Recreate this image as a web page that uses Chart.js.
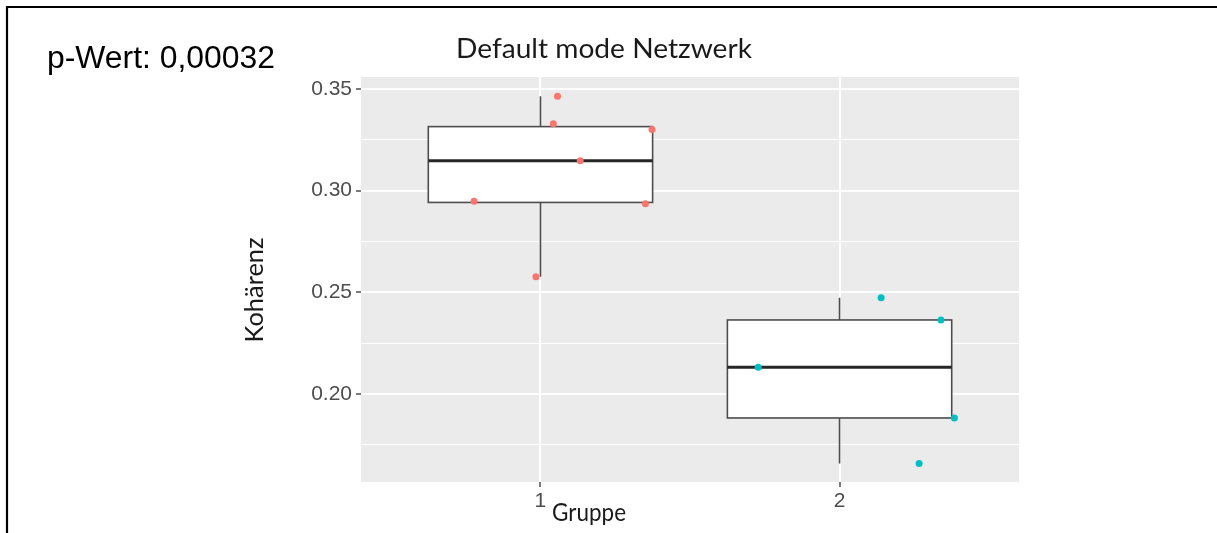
<!DOCTYPE html>
<html>
<head>
<meta charset="utf-8">
<script src="https://cdn.jsdelivr.net/npm/chart.js@4.4.0/dist/chart.umd.min.js"></script>
<style>
  html, body { margin: 0; padding: 0; background: #ffffff; }
  #wrap { position: relative; width: 1217px; height: 533px; }
  canvas { display: block; }
</style>
</head>
<body>
<div id="wrap"><canvas id="c" width="1217" height="533"></canvas></div>
<script>
// ---- Data ----
const groups = ["1", "2"];
const group1Values = [0.3464, 0.3329, 0.3301, 0.3147, 0.2948, 0.2936, 0.2577];
const group1Jitter = [0.057, 0.043, 0.373, 0.133, -0.222, 0.351, -0.015];
const group2Values = [0.2473, 0.2364, 0.2132, 0.1882, 0.1658];
const group2Jitter = [0.139, 0.339, -0.272, 0.384, 0.266];
const majorTicks = [0.20, 0.25, 0.30, 0.35];
const minorTicks = [0.175, 0.225, 0.275, 0.325];
const titleText = "Default mode Netzwerk";
const pValueText = "p-Wert: 0,00032";
const yTitle = "Kohärenz";
const xTitle = "Gruppe";

const groupValues = [group1Values, group2Values];
const groupJitter = [group1Jitter, group2Jitter];
const groupColors = ["#F8766D", "#00BFC4"];

// quantile type 7 (R default)
function quantile(arr, p) {
  const s = arr.slice().sort((a, b) => a - b);
  const h = (s.length - 1) * p;
  const lo = Math.floor(h), hi = Math.ceil(h);
  return s[lo] + (s[hi] - s[lo]) * (h - lo);
}
function boxStats(arr) {
  const q1 = quantile(arr, 0.25), med = quantile(arr, 0.5), q3 = quantile(arr, 0.75);
  const iqr = q3 - q1;
  const inside = arr.filter(v => v >= q1 - 1.5 * iqr && v <= q3 + 1.5 * iqr);
  return { q1, med, q3, lo: Math.min(...inside), hi: Math.max(...inside) };
}
const stats = groupValues.map(boxStats);
const boxHalf = 0.375;

const isMajor = v => majorTicks.some(m => Math.abs(m - v) < 1e-9);

const datasets = groupValues.map((vals, gi) => ({
  label: groups[gi],
  data: vals.map((v, i) => ({ x: gi + 1 + groupJitter[gi][i], y: v })),
  backgroundColor: groupColors[gi],
  borderColor: groupColors[gi],
  pointRadius: 3.5,
  pointBorderWidth: 0,
  pointHoverRadius: 3.5
}));

// draw text horizontally fitted to a target width
function fitText(ctx, text, x, y, width, align) {
  const w = ctx.measureText(text).width;
  const sx = width / w;
  ctx.save();
  ctx.translate(x, y);
  ctx.scale(sx, 1);
  ctx.textAlign = align;
  ctx.fillText(text, 0, 0);
  ctx.restore();
}

const panelPlugin = {
  id: 'panel',
  beforeDraw(chart) {
    const { ctx, chartArea: a } = chart;
    ctx.save();
    ctx.fillStyle = '#EBEBEB';
    ctx.fillRect(a.left, a.top, a.right - a.left, a.bottom - a.top);
    ctx.restore();
  },
  beforeDatasetsDraw(chart) {
    const { ctx, scales: { x, y } } = chart;
    ctx.save();
    stats.forEach((s, i) => {
      const c = i + 1;
      const xc = x.getPixelForValue(c);
      const xl = x.getPixelForValue(c - boxHalf);
      const xr = x.getPixelForValue(c + boxHalf);
      ctx.strokeStyle = '#4D4D4D';
      ctx.lineWidth = 1.6;
      ctx.beginPath();
      ctx.moveTo(xc, y.getPixelForValue(s.hi));
      ctx.lineTo(xc, y.getPixelForValue(s.q3));
      ctx.moveTo(xc, y.getPixelForValue(s.q1));
      ctx.lineTo(xc, y.getPixelForValue(s.lo));
      ctx.stroke();
      const yt = y.getPixelForValue(s.q3), yb = y.getPixelForValue(s.q1);
      ctx.fillStyle = '#FFFFFF';
      ctx.fillRect(xl, yt, xr - xl, yb - yt);
      ctx.strokeRect(xl, yt, xr - xl, yb - yt);
      ctx.strokeStyle = '#262626';
      ctx.lineWidth = 3;
      ctx.beginPath();
      const ym = y.getPixelForValue(s.med);
      ctx.moveTo(xl, ym);
      ctx.lineTo(xr, ym);
      ctx.stroke();
    });
    ctx.restore();
  },
  afterDraw(chart) {
    const { ctx } = chart;
    ctx.save();
    // outer frame (left and top edges visible)
    ctx.strokeStyle = '#000000';
    ctx.lineWidth = 2.2;
    ctx.beginPath();
    ctx.moveTo(7, 533);
    ctx.lineTo(7, 7);
    ctx.lineTo(1217, 7);
    ctx.stroke();
    ctx.textBaseline = 'alphabetic';
    // p-value text
    ctx.fillStyle = '#000000';
    ctx.font = '31px "Liberation Sans", Arial, sans-serif';
    fitText(ctx, pValueText, 47, 68, 228, 'left');
    // title
    ctx.fillStyle = '#1A1A1A';
    ctx.font = '27px Lato, "Open Sans", sans-serif';
    fitText(ctx, titleText, 604, 58, 296, 'center');
    // x title
    ctx.font = '25px Lato, "Open Sans", sans-serif';
    fitText(ctx, xTitle, 589, 521, 74, 'center');
    // y title
    ctx.font = '25px Lato, "Open Sans", sans-serif';
    ctx.translate(263, 290);
    ctx.rotate(-Math.PI / 2);
    fitText(ctx, yTitle, 0, 0, 105, 'center');
    ctx.restore();
  }
};

new Chart(document.getElementById('c'), {
  type: 'scatter',
  data: { datasets },
  options: {
    responsive: false,
    animation: false,
    events: [],
    layout: { padding: { left: 0, top: 77, right: 198, bottom: 0 } },
    plugins: { legend: { display: false }, tooltip: { enabled: false }, title: { display: false } },
    scales: {
      x: {
        type: 'linear',
        min: 0.4,
        max: 2.6,
        afterFit(scale) { scale.height = 51; },
        afterBuildTicks(scale) { scale.ticks = groups.map((g, i) => ({ value: i + 1 })); },
        border: { display: false },
        grid: { color: '#FFFFFF', lineWidth: 2, tickColor: '#4D4D4D', tickLength: 5, tickWidth: 1.5 },
        ticks: {
          autoSkip: false,
          padding: 2,
          color: '#4D4D4D',
          font: { family: '"Liberation Sans", Arial, sans-serif', size: 21 },
          callback: (v) => groups[Math.round(v) - 1]
        }
      },
      y: {
        type: 'linear',
        min: 0.1567,
        max: 0.3559,
        afterFit(scale) { scale.width = 361; },
        afterBuildTicks(scale) {
          scale.ticks = minorTicks.concat(majorTicks).sort((a, b) => a - b).map(v => ({ value: v }));
        },
        border: { display: false },
        grid: {
          color: '#FFFFFF',
          lineWidth: (c) => (c.tick && isMajor(c.tick.value)) ? 2 : 1,
          tickColor: (c) => (c.tick && isMajor(c.tick.value)) ? '#4D4D4D' : 'rgba(0,0,0,0)',
          tickLength: 5,
          tickWidth: 1.5
        },
        ticks: {
          autoSkip: false,
          padding: 4,
          color: '#4D4D4D',
          font: { family: '"Liberation Sans", Arial, sans-serif', size: 21 },
          callback: (v) => isMajor(v) ? Number(v).toFixed(2) : ''
        }
      }
    }
  },
  plugins: [panelPlugin]
});
</script>
</body>
</html>
